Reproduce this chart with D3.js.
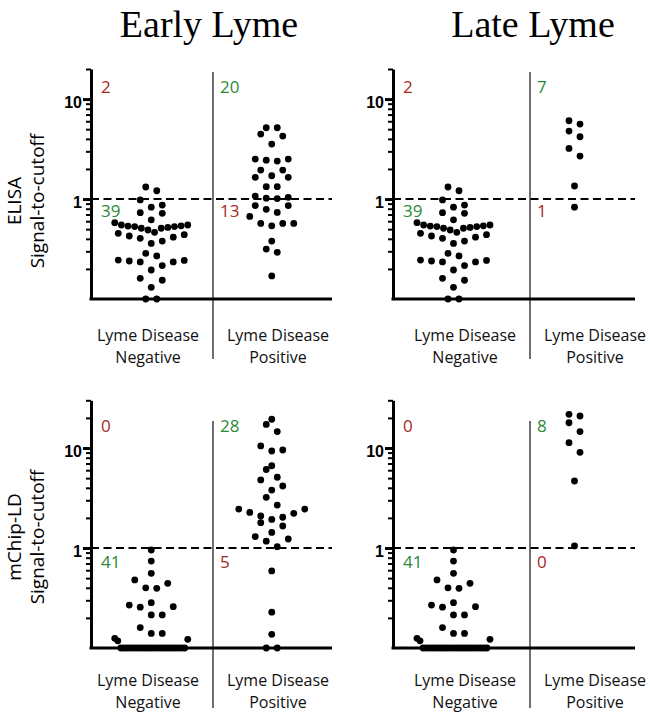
<!DOCTYPE html>
<html>
<head>
<meta charset="utf-8">
<script src="https://cdn.jsdelivr.net/npm/d3@7"></script>
<style>
body { margin: 0; background: #fff; }
</style>
</head>
<body>
<script>
// signal-to-cutoff values (0.1 = values sitting on the floor)
var elisaNegative = [1.32, 1.21, 0.98, 0.87, 0.83, 0.73, 0.72, 0.62,
	0.58, 0.55, 0.55, 0.54, 0.537, 0.53, 0.53, 0.52, 0.51, 0.51, 0.49, 0.465,
	0.454, 0.44, 0.427, 0.415, 0.405, 0.38, 0.36,
	0.286, 0.27, 0.245, 0.243, 0.24, 0.235, 0.235, 0.216, 0.195,
	0.161, 0.154, 0.131, 0.1, 0.1];
var elisaEarlyPositive = [5.17, 5.17, 4.47, 4.27, 3.55, 2.51, 2.45, 2.4, 2.51,
	1.95, 1.95, 1.71, 1.65, 1.65, 1.33, 1.33, 1.04, 1.02, 1.01, 1.07,
	0.86, 0.86, 0.79, 0.735, 0.67, 0.57, 0.54, 0.57, 0.57, 0.38, 0.316, 0.293, 0.17];
var elisaLatePositive = [6.07, 5.62, 4.79, 4.2, 3.21, 2.69, 1.35, 0.83];

var mchipNegative = [0.955, 0.74, 0.558, 0.48, 0.443, 0.4, 0.395, 0.284, 0.269, 0.259,
	0.256, 0.214, 0.214, 0.16, 0.14, 0.14, 0.125, 0.122, 0.118,
	0.1, 0.1, 0.1, 0.1, 0.1, 0.1, 0.1, 0.1, 0.1, 0.1, 0.1,
	0.1, 0.1, 0.1, 0.1, 0.1, 0.1, 0.1, 0.1, 0.1, 0.1, 0.1];
var mchipEarlyPositive = [19.4, 17.2, 14.6, 10.5, 9.55, 9.33, 6.65, 6.1, 5.1, 4.79,
	4.17, 3.8, 3.21, 2.69, 2.45, 2.45, 2.27, 2.22, 2.09, 2.03, 1.93, 1.79, 1.66,
	1.43, 1.3, 1.23, 1.17, 1.03, 0.59, 0.228, 0.137, 0.1, 0.1];
var mchipLatePositive = [21.7, 20.9, 17.9, 14.6, 11.3, 9.05, 4.68, 1.05];

// counts: negative above cutoff, negative below, positive above, positive below
var elisaEarlyCounts = [2, 39, 20, 13];
var elisaLateCounts = [2, 39, 7, 1];
var mchipEarlyCounts = [0, 41, 28, 5];
var mchipLateCounts = [0, 41, 8, 0];

var categories = ["Negative", "Positive"];
var majorTicks = [1, 10];
var cutoff = 1;

var red = "#a3291d", green = "#2b8a37";
var sans = "'Open Sans', 'Noto Sans', sans-serif";

var width = 650, height = 717;

var rows = [
	{ title: ["ELISA", "Signal-to-cutoff"], y: d3.scaleLog().domain([0.1, 20]).range([299, 69]),
		titleY: 201, countTop: 93, countBottom: 217, label1: 341, label2: 363 },
	{ title: ["mChip-LD", "Signal-to-cutoff"], y: d3.scaleLog().domain([0.1, 30]).range([648, 400.3]),
		titleY: 537, countTop: 432, countBottom: 568, label1: 686, label2: 708 }
];
var cols = [
	{ title: "Early Lyme", axisX: 91, endX: 332, divX: 213, titleX: 209 },
	{ title: "Late Lyme", axisX: 393, endX: 635, divX: 530, titleX: 533 }
];
var panels = [
	{ row: 0, col: 0, neg: elisaNegative, pos: elisaEarlyPositive, counts: elisaEarlyCounts },
	{ row: 0, col: 1, neg: elisaNegative, pos: elisaLatePositive, counts: elisaLateCounts },
	{ row: 1, col: 0, neg: mchipNegative, pos: mchipEarlyPositive, counts: mchipEarlyCounts },
	{ row: 1, col: 1, neg: mchipNegative, pos: mchipLatePositive, counts: mchipLateCounts }
];

// scatter-dot layout: bin points into rows, spread each row from the centre out
var binHeight = 10.5, slot = 11, maxSpan = 73, radius = 3.4;

function swarm(values, y, cx) {
	var pts = values.map(function (v) { return { v: v, y: y(v) }; })
		.sort(function (a, b) { return a.v - b.v; });
	var bins = [], bin = null;
	pts.forEach(function (p) {
		if (!bin || bin.y0 - p.y > binHeight) {
			bin = { y0: p.y, pts: [] };
			bins.push(bin);
		}
		bin.pts.push(p);
	});
	bins.forEach(function (b) {
		var n = b.pts.length;
		var step = n > 1 ? Math.min(slot, maxSpan / (n - 1)) : 0;
		b.pts.forEach(function (p, k) {
			var idx;
			if (n % 2) idx = k === 0 ? 0 : (k % 2 ? (k + 1) / 2 : -k / 2);
			else idx = (k % 2 ? -1 : 1) * (Math.floor(k / 2) + 0.5);
			p.x = cx + idx * step;
		});
	});
	return pts;
}

var svg = d3.select("body").append("svg")
	.attr("width", width)
	.attr("height", height);

// column titles
cols.forEach(function (c) {
	svg.append("text")
		.text(c.title)
		.attr("x", c.titleX)
		.attr("y", 37)
		.attr("text-anchor", "middle")
		.attr("font-family", "'Liberation Serif', 'Times New Roman', serif")
		.attr("font-size", "38px");
});

// row titles
rows.forEach(function (r) {
	var t = svg.append("text")
		.attr("transform", "translate(0," + r.titleY + ") rotate(-90)")
		.attr("text-anchor", "middle")
		.attr("font-family", sans)
		.attr("font-size", "19px");
	t.append("tspan").attr("x", 0).attr("y", 21).text(r.title[0]);
	t.append("tspan").attr("x", 0).attr("y", 44).text(r.title[1]);
});

panels.forEach(function (p) {
	var r = rows[p.row], c = cols[p.col], y = r.y;
	var x = d3.scaleBand().domain(categories).range([c.axisX, c.endX]);
	var g = svg.append("g");
	var floorY = y(y.domain()[0]);

	// divider between the groups
	g.append("line")
		.attr("x1", c.divX).attr("x2", c.divX)
		.attr("y1", y(20) + 3).attr("y2", floorY + 60)
		.attr("stroke", "#222").attr("stroke-width", 1.3);

	// cutoff
	g.append("line")
		.attr("x1", c.axisX).attr("x2", c.endX)
		.attr("y1", y(cutoff)).attr("y2", y(cutoff))
		.attr("stroke", "#000").attr("stroke-width", 2)
		.attr("stroke-dasharray", "8,4.5");

	// minor ticks
	var minor = y.ticks().filter(function (d) { return majorTicks.indexOf(d) < 0 && d > y.domain()[0]; });
	g.append("g")
		.attr("transform", "translate(" + c.axisX + ",0)")
		.call(d3.axisLeft(y).tickValues(minor).tickSize(5).tickFormat(""))
		.call(function (a) {
			a.select(".domain").remove();
			a.selectAll("line").attr("stroke-width", 2);
		});

	// major ticks and axis line
	g.append("g")
		.attr("transform", "translate(" + c.axisX + ",0)")
		.call(d3.axisLeft(y).tickValues(majorTicks).tickSize(8).tickSizeOuter(0).tickPadding(1).tickFormat(d3.format("d")))
		.call(function (a) {
			a.select(".domain").attr("stroke-width", 3);
			a.selectAll("line").attr("stroke-width", 3);
			a.selectAll("text")
				.attr("font-family", "'Liberation Sans', Arial, sans-serif")
				.attr("font-weight", "bold")
				.attr("font-size", "16px")
				.attr("dy", "0.5em");
		});

	// x axis line
	g.append("line")
		.attr("x1", c.axisX - 1.5).attr("x2", c.endX)
		.attr("y1", floorY).attr("y2", floorY)
		.attr("stroke", "#000").attr("stroke-width", 3);

	// group labels
	categories.forEach(function (cat, i) {
		var lx = c.divX + (i === 0 ? -65 : 65);
		var t = g.append("text")
			.attr("text-anchor", "middle")
			.attr("font-family", sans)
			.attr("font-size", "16px")
			.attr("fill", "#111");
		t.append("tspan").attr("x", lx).attr("y", r.label1).text("Lyme Disease");
		t.append("tspan").attr("x", lx).attr("y", r.label2).text(cat);
	});

	// counts
	var countSpots = [
		{ x: c.axisX + 10, y: r.countTop, color: red },
		{ x: c.axisX + 10, y: r.countBottom, color: green },
		{ x: c.divX + 7, y: r.countTop, color: green },
		{ x: c.divX + 7, y: r.countBottom, color: red }
	];
	g.selectAll("text.count")
		.data(p.counts)
		.enter()
		.append("text")
		.attr("class", "count")
		.text(function (d) { return d; })
		.attr("x", function (d, i) { return countSpots[i].x; })
		.attr("y", function (d, i) { return countSpots[i].y; })
		.attr("fill", function (d, i) { return countSpots[i].color; })
		.attr("font-family", sans)
		.attr("font-size", "17px");

	// dots
	var cx = function (cat) { return x(cat) + x.bandwidth() / 2; };
	var dots = swarm(p.neg, y, cx(categories[0])).concat(swarm(p.pos, y, cx(categories[1])));
	g.selectAll("circle")
		.data(dots)
		.enter()
		.append("circle")
		.attr("cx", function (d) { return d.x; })
		.attr("cy", function (d) { return d.y; })
		.attr("r", radius)
		.attr("fill", "#000");
});
</script>
</body>
</html>
